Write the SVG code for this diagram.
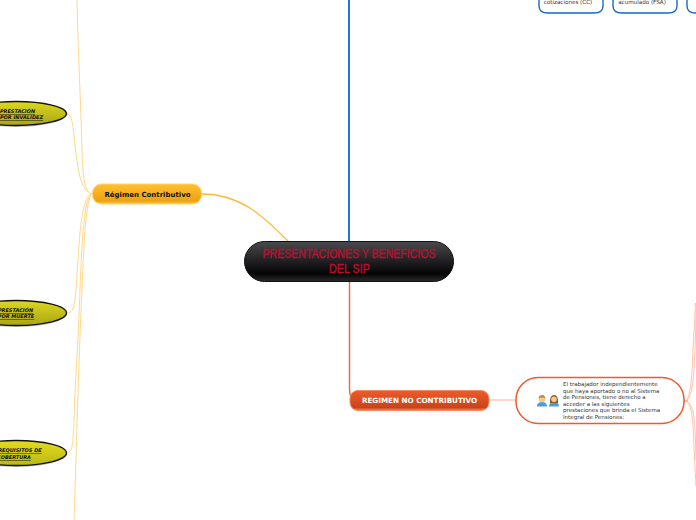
<svg xmlns="http://www.w3.org/2000/svg" width="696" height="520" viewBox="0 0 696 520">
<defs>
<linearGradient id="gBlack" x1="0" y1="0" x2="0" y2="1"><stop offset="0" stop-color="#4a4a4e"/><stop offset="0.8" stop-color="#050506"/><stop offset="1" stop-color="#2a2a2c"/></linearGradient>
<linearGradient id="gOrange" x1="0" y1="0" x2="0" y2="1"><stop offset="0" stop-color="#ffc030"/><stop offset="0.85" stop-color="#eda213"/><stop offset="1" stop-color="#ffc94f"/></linearGradient>
<linearGradient id="gRed" x1="0" y1="0" x2="0" y2="1"><stop offset="0" stop-color="#ed5b2c"/><stop offset="0.85" stop-color="#c9441c"/><stop offset="1" stop-color="#f58559"/></linearGradient>
<linearGradient id="gOlive1" x1="0" y1="0" x2="0" y2="1"><stop offset="0" stop-color="#dcd81e"/><stop offset="1" stop-color="#aaa515"/></linearGradient>
<linearGradient id="gOlive2" x1="0" y1="0" x2="0" y2="1"><stop offset="0" stop-color="#e2dc1e"/><stop offset="1" stop-color="#bcb716"/></linearGradient>
</defs>
<style>
text{font-family:"DejaVu Sans",Verdana,sans-serif;text-anchor:middle}
.y{fill:none;stroke:#ffd98a;stroke-width:1}
.o{fill:none;stroke:#fdbb3a;stroke-width:1.300}
.p{fill:none;stroke:#ffc2aa;stroke-width:1}
.el{stroke:#111;stroke-width:1.300}
.eltxt{font-size:5px;font-weight:bold;font-style:italic;text-decoration:underline;fill:#111}
.sm{font-size:5.600px;fill:#333}
.box{fill:#fff;stroke:#1769c4;stroke-width:1.400}
.desc{font-size:5.500px;fill:#333;text-anchor:start}
.ttl{font-family:"Liberation Sans",Arial,sans-serif;font-size:12.500px;fill:#b8102e;stroke:#b8102e;stroke-width:0.400}
</style>
<g id="connectors">
<path d="M349 241V0" fill="none" stroke="#0f62e0" stroke-width="1.800"/>
<path d="M349.500 282V388Q349.500 400 356 400" fill="none" stroke="#f0653a" stroke-width="1.400"/>
<path d="M288 241C262 215 240 194 202 194" class="o"/>
<path d="M92 194C84 192 83 175 82 150C81 110 78 50 77 0" class="y"/>
<path d="M92 194C80 190 78 170 75 145C73 125 72 114 67 114" class="y"/>
<path d="M92 194C82 196 80 230 78 260C75 300 76 313 67 313" class="y"/>
<path d="M92 194C84 196 82 240 80 290C78 350 75 380 74 420C73 445 72 453 67 453" class="y"/>
<path d="M92 194C86 198 84 240 82 290C79 350 77 430 74 520" class="y"/>
<path d="M489 400H516" fill="none" stroke="#ffab8e" stroke-width="1"/>
<path d="M684 401H688" fill="none" stroke="#f0653a" stroke-width="1"/>
<path d="M686 401C690 397 692 380 693 350C694 330 695 315 695.500 303" class="p"/>
<path d="M686 401C692 397 694 380 695 350C695.500 335 696 320 696 310" class="p"/>
<path d="M686 401C691 404 692 415 693 425C694 445 695 470 696 486" class="p"/>
<path d="M686 401C693 403 694 415 695 430C695.500 440 696 450 696 460" class="p"/>
</g>
<g id="node-top-1"><path d="M539 -10V6Q539 13 548 13H594Q603 13 603 6V-10" class="box"/><text x="568" y="4" class="sm">cotizaciones (CC)</text></g>
<g id="node-top-2"><path d="M613 -10V6Q613 13 622 13H668Q677 13 677 6V-10" class="box"/><text x="642" y="4" class="sm">acumulado (FSA)</text></g>
<g id="node-top-3"><path d="M687 -10V6Q687 13 696 13H710" class="box"/></g>
<g id="node-invalidez"><ellipse cx="16" cy="114.500" rx="50.500" ry="12.500" fill="#444" opacity="0.35"/><ellipse cx="16" cy="113.500" rx="50.500" ry="12" fill="url(#gOlive1)" class="el"/><text x="17.500" y="113" class="eltxt">PRESTACIÓN</text><text x="21.500" y="119" class="eltxt">POR INVALIDEZ</text></g>
<g id="node-muerte"><ellipse cx="16" cy="314" rx="50.500" ry="13" fill="#444" opacity="0.35"/><ellipse cx="16" cy="313" rx="50.500" ry="12.500" fill="url(#gOlive1)" class="el"/><text x="15.500" y="312" class="eltxt">PRESTACIÓN</text><text x="16" y="318" class="eltxt">POR MUERTE</text></g>
<g id="node-requisitos"><ellipse cx="16" cy="454" rx="50.500" ry="13" fill="#444" opacity="0.35"/><ellipse cx="16" cy="453" rx="50.500" ry="12.500" fill="url(#gOlive2)" class="el"/><text x="20" y="452" class="eltxt">REQUISITOS DE</text><text x="14" y="459" class="eltxt">COBERTURA</text></g>
<g id="node-contributivo"><rect x="92.500" y="184" width="109" height="20" rx="9" fill="url(#gOrange)" stroke="#ffd36e" stroke-width="1"/><text x="147.500" y="197" font-size="7" font-weight="bold" fill="#111">Régimen Contributivo</text></g>
<g id="node-central"><rect x="244.500" y="241.500" width="209" height="40" rx="20" fill="url(#gBlack)" stroke="#111" stroke-width="1"/><text x="349" y="258" class="ttl" textLength="173" lengthAdjust="spacingAndGlyphs">PRESENTACIONES Y BENEFICIOS</text><text x="349.500" y="273" class="ttl" textLength="41" lengthAdjust="spacingAndGlyphs">DEL SIP</text></g>
<g id="node-nocontributivo"><rect x="350" y="390.500" width="139" height="20" rx="8" fill="url(#gRed)" stroke="#f58a5f" stroke-width="1"/><text x="419.500" y="403" font-size="7.200" font-weight="bold" fill="#fff">REGIMEN NO CONTRIBUTIVO</text></g>
<g id="node-trabajador"><rect x="516" y="377.500" width="168" height="46" rx="22" fill="#fff" stroke="#f0592a" stroke-width="1.500"/>
<path d="M537 406.500Q537 402 542 402Q547 402 547 406.500Z" fill="#4a9fd8"/><circle cx="542" cy="398.800" r="3.400" fill="#f5c98a"/><path d="M538.600 398.500Q539 395 542 395Q545 395 545.400 398.500Q542 396.500 538.600 398.500Z" fill="#b88a4a"/>
<path d="M549 406.500Q549 402 554 402Q559 402 559 406.500Z" fill="#4a9fd8"/><path d="M550 403Q549.500 395 554 395Q558.500 395 558 403Z" fill="#8a5a2a"/><circle cx="554" cy="399.300" r="2.800" fill="#f5c98a"/>
<text x="563" y="386" class="desc">El trabajador independientemente</text><text x="563" y="392.500" class="desc">que haya aportado o no al Sistema</text><text x="563" y="399" class="desc">de Pensiones, tiene derecho a</text><text x="563" y="405.500" class="desc">acceder a las siguientes</text><text x="563" y="412" class="desc">prestaciones que brinda el Sistema</text><text x="563" y="419" class="desc">Integral de Pensiones:</text></g>
</svg>
